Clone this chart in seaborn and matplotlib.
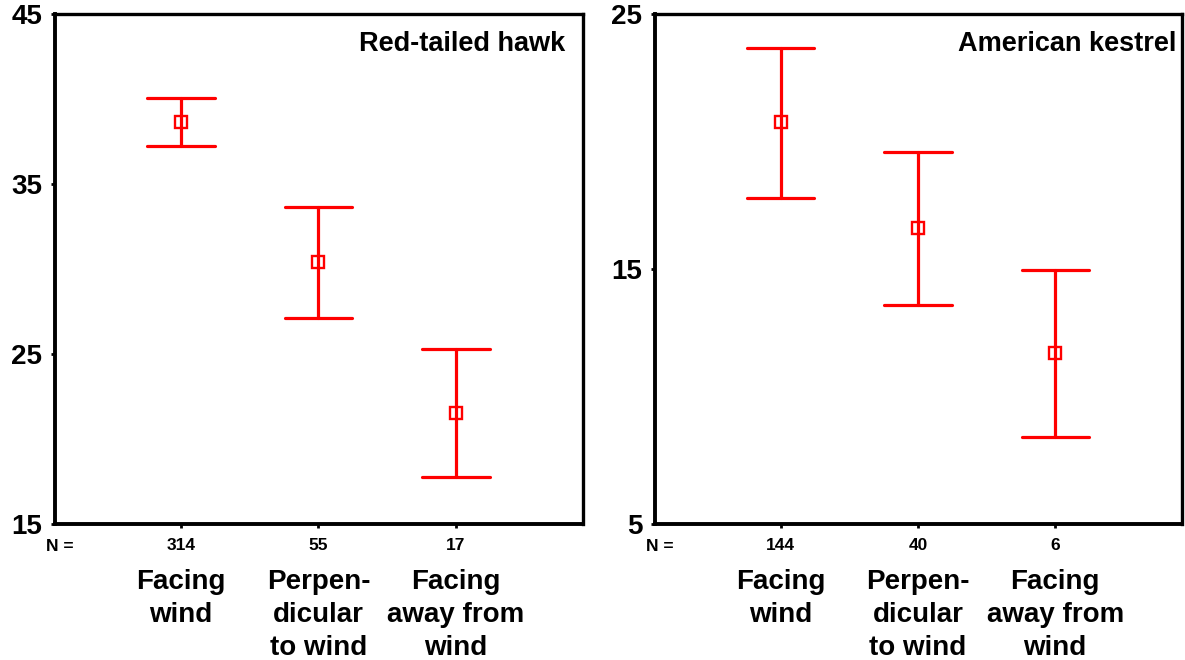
import matplotlib
matplotlib.use("Agg")
import matplotlib.pyplot as plt
import matplotlib.transforms as mtransforms
import seaborn as sns
import pandas as pd

categories = ["Facing\nwind", "Perpen-\ndicular\nto wind", "Facing\naway from\nwind"]

hawk_mean = [38.65, 30.4, 21.55]
hawk_low = [37.25, 27.1, 17.75]
hawk_high = [40.05, 33.65, 25.3]
hawk_n = ["314", "55", "17"]

kestrel_mean = [20.75, 16.6, 11.7]
kestrel_low = [17.8, 13.6, 8.4]
kestrel_high = [23.65, 19.6, 14.95]
kestrel_n = ["144", "40", "6"]

sns.set_theme(style="white")
plt.rcParams["font.family"] = ["Liberation Sans", "DejaVu Sans"]
plt.rcParams["font.weight"] = "bold"
plt.rcParams["text.color"] = "black"
plt.rcParams["xtick.color"] = "black"
plt.rcParams["ytick.color"] = "black"

fig = plt.figure(figsize=(11.85, 6.6), dpi=100)
ax1 = fig.add_axes([55 / 1185, 1 - 524 / 660, (583 - 55) / 1185, 510 / 660])
ax2 = fig.add_axes([655 / 1185, 1 - 524 / 660, (1182 - 655) / 1185, 510 / 660])

panels = [
    (ax1, hawk_mean, hawk_low, hawk_high, hawk_n, "Red-tailed hawk", 0.966, (15, 45), [15, 25, 35, 45]),
    (ax2, kestrel_mean, kestrel_low, kestrel_high, kestrel_n, "American kestrel", 0.989, (5, 25), [5, 15, 25]),
]

for ax, mean, low, high, ns, title, tx, ylim, yticks in panels:
    rows = []
    for c, m, lo, hi in zip(categories, mean, low, high):
        for v in (lo, m, hi):
            rows.append({"cat": c, "val": v})
    df = pd.DataFrame(rows)
    sns.pointplot(
        data=df, x="cat", y="val", order=categories, ax=ax,
        estimator="median", errorbar=("pi", 100),
        linestyle="none", marker="s", color="#ff0000",
        capsize=0.49, err_kws={"linewidth": 2.3},
        markersize=8.5, markeredgewidth=1.7, markerfacecolor="white",
        markeredgecolor="#ff0000",
    )
    ax.set_xlim(-0.916, 2.924)
    ax.set_ylim(*ylim)
    ax.set_yticks(yticks)
    ax.set_yticklabels([str(t) for t in yticks], fontsize=20, fontweight="bold", color="black")
    ax.set_xticks([0, 1, 2])
    ax.set_xticklabels(ns, fontsize=12.5, fontweight="bold", color="black")
    ax.set_xlabel("")
    ax.set_ylabel("")
    ax.tick_params(axis="both", which="both", direction="out", length=3, width=2,
                   color="black", bottom=True, left=True)
    ax.tick_params(axis="x", pad=7)
    ax.tick_params(axis="y", pad=6)
    for side in ["top", "right", "left", "bottom"]:
        ax.spines[side].set_visible(True)
        ax.spines[side].set_color("black")
        ax.spines[side].set_linewidth(2.4)
    ax.spines["left"].set_linewidth(2.8)
    ax.spines["bottom"].set_linewidth(2.8)
    ax.grid(False)
    ax.text(tx, 0.942, title, transform=ax.transAxes, ha="right", va="center",
            fontsize=19.5, fontweight="bold", color="black")
    trans = mtransforms.blended_transform_factory(ax.transData, ax.transAxes)
    for i, c in enumerate(categories):
        ax.text(i, -0.089, c, transform=trans, ha="center", va="top",
                fontsize=20, fontweight="bold", linespacing=1.34, color="black")
    ax.text(-0.98, -0.045, "N =", transform=trans, ha="left", va="center",
            fontsize=12.5, fontweight="bold", color="black")

fig.savefig("out.png", dpi=100)
